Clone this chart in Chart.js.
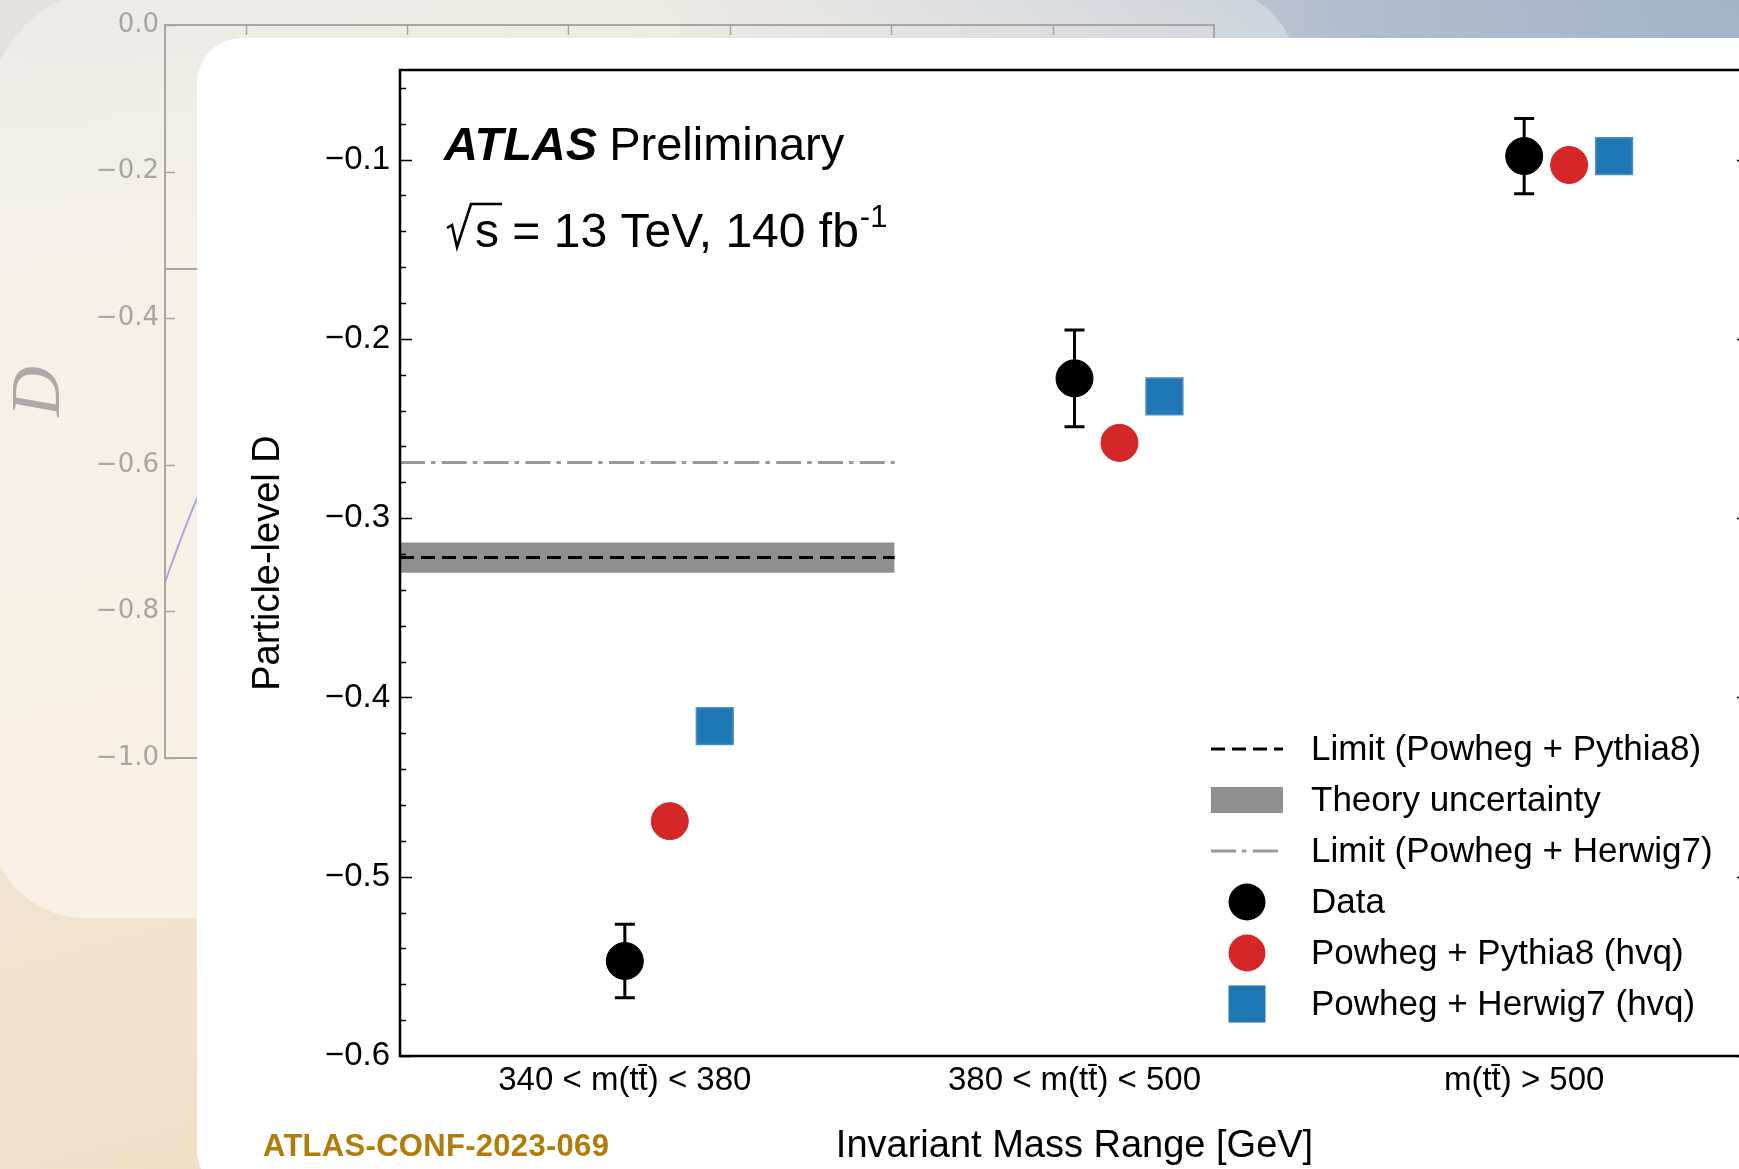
<!DOCTYPE html>
<html>
<head>
<meta charset="utf-8">
<title>Particle-level D</title>
<script src="https://cdn.jsdelivr.net/npm/chart.js@4.4.0/dist/chart.umd.min.js"></script>
<style>
  html, body { margin: 0; padding: 0; width: 1739px; height: 1169px; overflow: hidden; }
  body {
    position: relative;
    background:
      radial-gradient(ellipse 1100px 700px at 100% 0%, #a4b3cb 0%, #b1bdd0 35%, rgba(205,210,220,0) 100%),
      linear-gradient(165deg, #e3e2e1 0%, #ece4d8 30%, #f2e2cb 65%, #efdac0 100%);
    font-family: "Liberation Sans", Arial, sans-serif;
  }
  #panel {
    position: absolute; left: -10px; top: -10px; width: 1306px; height: 928px;
    border-radius: 120px 80px 0 95px;
    background: linear-gradient(to bottom, rgba(255,252,247,0.30) 0%, rgba(255,250,242,0.55) 25%, rgba(255,249,240,0.6) 100%);
  }
  #bgWrap { position: absolute; left: 0; top: 0; width: 1300px; height: 900px; }
  #card {
    position: absolute; left: 197px; top: 38px; width: 1600px; height: 1157px;
    background: #fff; border-radius: 45px;
  }
  #mainWrap { position: absolute; left: 0; top: 0; width: 1800px; height: 1169px; }
  #confTag {
    position: absolute; left: 263px; top: 1128px;
    font: bold 31px "Liberation Sans", Arial, sans-serif; color: #b27c0a; letter-spacing: 0.3px;
  }
</style>
</head>
<body>
<div id="panel"></div>
<div id="bgWrap"><canvas id="bgChart"></canvas></div>
<div id="card"></div>
<div id="mainWrap"><canvas id="dChart"></canvas></div>
<div id="confTag">ATLAS-CONF-2023-069</div>

<script>
// ---- measured D per invariant mass bin ----
const massBins = ['340 < m(tt\u0304) < 380', '380 < m(tt\u0304) < 500', 'm(tt\u0304) > 500'];
const dataD = [-0.547, -0.222, -0.098];
const dataErr = [0.0205, 0.027, 0.021];
const pythia8D = [-0.469, -0.258, -0.103];
const herwig7D = [-0.416, -0.232, -0.098];

// entanglement limits (only shown over the first bin)
const limitPythia8 = -0.322;
const theoryBand = [-0.3305, -0.3135];
const limitHerwig7 = -0.269;
const limitSpan = [-0.5, 0.6];

const yTickValues = [-0.6, -0.5, -0.4, -0.3, -0.2, -0.1];
const yTickLabels = ['\u22120.6', '\u22120.5', '\u22120.4', '\u22120.3', '\u22120.2', '\u22120.1'];

const legendLabels = [
  'Limit (Powheg + Pythia8)',
  'Theory uncertainty',
  'Limit (Powheg + Herwig7)',
  'Data',
  'Powheg + Pythia8 (hvq)',
  'Powheg + Herwig7 (hvq)'
];

// faded plot behind the card
const bgYTicks = [0, -0.2, -0.4, -0.6, -0.8, -1.0];
const bgYLabels = ['0.0', '\u22120.2', '\u22120.4', '\u22120.6', '\u22120.8', '\u22121.0'];
const bgXTicks = [1, 2, 3, 4, 5, 6];
const bgLimit = -0.333;
const bgCurveX = [0.5, 0.6, 0.7, 0.8, 1.0];
const bgCurveD = [-0.76, -0.70, -0.645, -0.60, -0.52];

Chart.defaults.font.family = '"Liberation Sans", Arial, sans-serif';
Chart.defaults.color = '#000';

const RED = '#d62728';
const BLUE = '#1f77b4';

// frame box with inward ticks, matplotlib style
const frameTicks = {
  id: 'frameTicks',
  afterDraw(chart, args, o) {
    const { ctx, chartArea: a, scales } = chart;
    ctx.save();
    ctx.strokeStyle = o.color;
    ctx.lineWidth = o.lineWidth;
    ctx.strokeRect(a.left, a.top, a.right - a.left, a.bottom - a.top);
    ctx.lineWidth = o.tickWidth;
    const tick = (v, len) => {
      const y = Math.round(scales.y.getPixelForValue(v)) + 0.5;
      ctx.beginPath();
      ctx.moveTo(a.left, y); ctx.lineTo(a.left + len, y);
      if (o.mirror) { ctx.moveTo(a.right, y); ctx.lineTo(a.right - len, y); }
      ctx.stroke();
    };
    (o.yMajor || []).forEach(v => tick(v, o.majorLen));
    (o.yMinor || []).forEach(v => tick(v, o.minorLen));
    (o.xTop || []).forEach(v => {
      const x = Math.round(scales.x.getPixelForValue(v)) + 0.5;
      ctx.beginPath();
      ctx.moveTo(x, a.top); ctx.lineTo(x, a.top + o.majorLen);
      ctx.stroke();
    });
    ctx.restore();
  }
};

// vertical error bars with caps on the data points
const errorBars = {
  id: 'errorBars',
  beforeDatasetsDraw(chart) {
    const { ctx, scales } = chart;
    const meta = chart.getDatasetMeta(3);
    ctx.save();
    ctx.strokeStyle = '#000';
    ctx.lineWidth = 3;
    meta.data.forEach((pt, i) => {
      const top = scales.y.getPixelForValue(dataD[i] + dataErr[i]);
      const bot = scales.y.getPixelForValue(dataD[i] - dataErr[i]);
      ctx.beginPath();
      ctx.moveTo(pt.x, top); ctx.lineTo(pt.x, bot);
      ctx.moveTo(pt.x - 10, top); ctx.lineTo(pt.x + 10, top);
      ctx.moveTo(pt.x - 10, bot); ctx.lineTo(pt.x + 10, bot);
      ctx.stroke();
    });
    ctx.restore();
  }
};

// ATLAS label, energy line and the legend
const overlay = {
  id: 'overlay',
  afterDraw(chart) {
    const { ctx, chartArea: a } = chart;
    ctx.save();
    ctx.fillStyle = '#000';
    ctx.textBaseline = 'alphabetic';

    const x0 = a.left + 44;
    ctx.font = 'italic bold 47px "Liberation Sans"';
    ctx.fillText('ATLAS', x0, a.top + 90);
    const w = ctx.measureText('ATLAS').width;
    ctx.font = '47px "Liberation Sans"';
    ctx.fillText('Preliminary', x0 + w + 12, a.top + 90);

    // sqrt(s) line
    const by = a.top + 177;
    ctx.strokeStyle = '#000';
    ctx.lineWidth = 2.6;
    ctx.beginPath();
    ctx.moveTo(x0 + 3, by - 19);
    ctx.lineTo(x0 + 8, by - 22);
    ctx.lineTo(x0 + 13, by);
    ctx.lineTo(x0 + 27, by - 43);
    ctx.lineTo(x0 + 58, by - 43);
    ctx.stroke();
    ctx.font = '48px "Liberation Sans"';
    const txt = 's = 13 TeV, 140 fb';
    ctx.fillText(txt, x0 + 31, by);
    const tw = ctx.measureText(txt).width;
    ctx.font = '31px "Liberation Sans"';
    ctx.fillText('-1', x0 + 32 + tw, by - 20);

    // legend
    const hx = 1211, hw = 72, tx = 1311;
    ctx.font = '35px "Liberation Sans"';
    ctx.textBaseline = 'middle';
    legendLabels.forEach((label, i) => {
      const y = 749 + i * 51;
      ctx.save();
      if (i === 0 || i === 2) {
        ctx.lineWidth = 3;
        ctx.strokeStyle = i === 0 ? '#000' : '#999';
        ctx.setLineDash(i === 0 ? [14, 7] : [25, 6, 4.5, 6.3]);
        ctx.beginPath(); ctx.moveTo(hx, y); ctx.lineTo(hx + hw, y); ctx.stroke();
      } else if (i === 1) {
        ctx.fillStyle = '#8f8f8f';
        ctx.fillRect(hx, y - 13, hw, 26);
      } else if (i === 5) {
        ctx.fillStyle = BLUE;
        ctx.fillRect(hx + hw / 2 - 18.5, y - 18.5, 37, 37);
      } else {
        ctx.fillStyle = i === 3 ? '#000' : RED;
        ctx.beginPath(); ctx.arc(hx + hw / 2, y, 18.5, 0, Math.PI * 2); ctx.fill();
      }
      ctx.restore();
      ctx.fillText(label, tx, y + 1);
    });
    ctx.restore();
  }
};

const yMinor = [];
for (let k = 1; k <= 27; k++) {
  const v = Math.round((-0.6 + k * 0.02) * 100) / 100;
  if (k % 5 !== 0) yMinor.push(v);
}

const xy = (xs, ys) => xs.map((x, i) => ({ x, y: ys[i] }));
const offsetPts = (vals, dx) => vals.map((v, i) => ({ x: i + dx, y: v }));

new Chart(document.getElementById('dChart'), {
  type: 'scatter',
  data: {
    datasets: [
      {
        type: 'line', label: legendLabels[0], order: 5,
        data: xy(limitSpan, [limitPythia8, limitPythia8]),
        borderColor: '#000', borderWidth: 3, borderDash: [14, 7], pointRadius: 0, fill: false
      },
      {
        type: 'line', label: legendLabels[1], order: 6,
        data: xy(limitSpan, [theoryBand[0], theoryBand[0]]),
        borderWidth: 0, pointRadius: 0, backgroundColor: '#8f8f8f',
        fill: { value: theoryBand[1] }
      },
      {
        type: 'line', label: legendLabels[2], order: 5,
        data: xy(limitSpan, [limitHerwig7, limitHerwig7]),
        borderColor: '#999', borderWidth: 3, borderDash: [25, 6, 4.5, 6.3], pointRadius: 0, fill: false
      },
      {
        label: legendLabels[3], order: 3,
        data: offsetPts(dataD, 0),
        pointStyle: 'circle', pointRadius: 18.5, backgroundColor: '#000', borderColor: '#000', borderWidth: 1
      },
      {
        label: legendLabels[4], order: 2,
        data: offsetPts(pythia8D, 0.1),
        pointStyle: 'circle', pointRadius: 18.5, backgroundColor: RED, borderColor: RED, borderWidth: 1
      },
      {
        label: legendLabels[5], order: 1,
        data: offsetPts(herwig7D, 0.2),
        pointStyle: 'rect', pointRadius: 26, backgroundColor: BLUE, borderColor: '#4a8fc6', borderWidth: 1.5
      }
    ]
  },
  options: {
    responsive: true,
    maintainAspectRatio: false,
    animation: false,
    events: [],
    layout: { padding: { top: 70, right: 51, left: 0, bottom: 0 } },
    scales: {
      x: {
        type: 'linear', min: -0.5, max: 2.5,
        afterBuildTicks: s => { s.ticks = massBins.map((_, i) => ({ value: i })); },
        afterFit: s => { s.height = 113; },
        ticks: {
          autoSkip: false, maxRotation: 0, padding: 5,
          font: { size: 33 },
          callback: v => massBins[v]
        },
        grid: { display: false, drawTicks: false },
        border: { display: false },
        title: {
          display: true, text: 'Invariant Mass Range [GeV]',
          font: { size: 38 }, padding: { top: 0, bottom: 0 }
        }
      },
      y: {
        min: -0.6, max: -0.05,
        afterBuildTicks: s => { s.ticks = yTickValues.map(v => ({ value: v })); },
        afterFit: s => { s.width = 400; },
        ticks: {
          autoSkip: false, padding: 10,
          font: { size: 33 },
          callback: v => yTickLabels[yTickValues.findIndex(t => Math.abs(t - v) < 1e-9)]
        },
        grid: { display: false, drawTicks: false },
        border: { display: false },
        title: {
          display: true, text: 'Particle-level D',
          font: { size: 38 }, padding: { top: 246, bottom: 0 }
        }
      }
    },
    plugins: {
      legend: { display: false },
      tooltip: { enabled: false },
      frameTicks: {
        color: '#000', lineWidth: 2.5, tickWidth: 1.6,
        yMajor: yTickValues, yMinor: yMinor, majorLen: 12, minorLen: 6, mirror: true
      }
    }
  },
  plugins: [frameTicks, errorBars, overlay]
});

// faded plot behind the white card
new Chart(document.getElementById('bgChart'), {
  type: 'line',
  data: {
    datasets: [
      {
        data: xy([0.5, 7], [bgLimit, bgLimit]),
        borderColor: '#aaa5a0', borderWidth: 2, pointRadius: 0
      },
      {
        data: xy(bgCurveX, bgCurveD),
        borderColor: '#a9a6e2', borderWidth: 2, pointRadius: 0, tension: 0.3
      }
    ]
  },
  options: {
    responsive: true,
    maintainAspectRatio: false,
    animation: false,
    events: [],
    layout: { padding: { top: 25, right: 86, left: 0, bottom: 142 } },
    scales: {
      x: { type: 'linear', min: 0.5, max: 7, display: false },
      y: {
        min: -1.0, max: 0,
        afterBuildTicks: s => { s.ticks = bgYTicks.map(v => ({ value: v })); },
        afterFit: s => { s.width = 165; },
        ticks: {
          autoSkip: false, padding: 6, color: '#aaa5a0',
          font: { family: '"DejaVu Sans"', size: 26 },
          callback: v => bgYLabels[bgYTicks.findIndex(t => Math.abs(t - v) < 1e-9)]
        },
        grid: { display: false, drawTicks: false },
        border: { display: false },
        title: {
          display: true, text: 'D', color: '#aea9a4',
          font: { family: '"Liberation Serif"', style: 'italic', size: 70, lineHeight: 1 },
          padding: { top: 6, bottom: 0 }
        }
      }
    },
    plugins: {
      legend: { display: false },
      tooltip: { enabled: false },
      frameTicks: {
        color: '#aaa5a0', lineWidth: 2, tickWidth: 1.5,
        yMajor: bgYTicks, xTop: bgXTicks, majorLen: 10, minorLen: 5, mirror: false
      }
    }
  },
  plugins: [frameTicks]
});
</script>
</body>
</html>
